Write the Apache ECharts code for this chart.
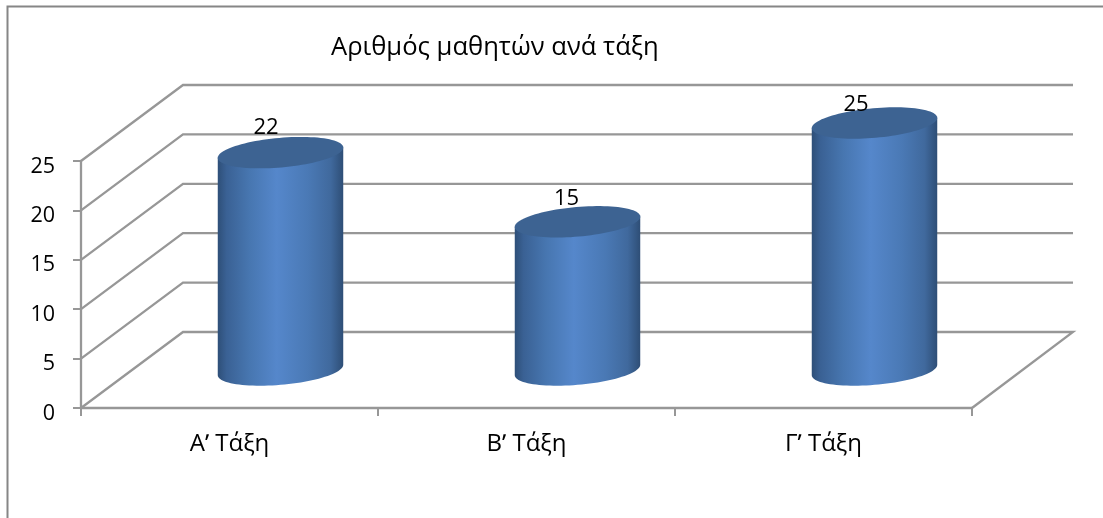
<!DOCTYPE html>
<html>
<head>
<meta charset="utf-8">
<script src="https://cdn.jsdelivr.net/npm/echarts@6/dist/echarts.min.js"></script>
<style>
  html, body { margin: 0; padding: 0; background: #fff; }
  #chart { width: 1103px; height: 518px; }
</style>
</head>
<body>
<div id="chart"></div>
<script>
// Pupils per class
const chartTitle = 'Αριθμός μαθητών ανά τάξη';
const categories = ['Αʹ Τάξη', 'Βʹ Τάξη', 'Γʹ Τάξη'];
const pupils = [22, 15, 25];
const valueTicks = [0, 5, 10, 15, 20, 25];

// Oblique projection of the 3D box, in pixels
const DEPTH_X = 102;
const DEPTH_Y = -76;
const BAR_RATIO = 0.424;
const TILT = -5 * Math.PI / 180;
const CAP_B = 14.8;
// Where each value label sits relative to the centre of the cylinder's top
const LABEL_SHIFT = [[-14.5, -25], [-11, -23], [-18.5, -18]];

const FONT = '"Open Sans", "Noto Sans", sans-serif';
const GREY = '#979797';

const chart = echarts.init(document.getElementById('chart'), null, { renderer: 'canvas' });

// Point on a tilted ellipse at parameter t
function ellipsePoint(cx, cy, a, b, t) {
  const x = a * Math.cos(t), y = b * Math.sin(t);
  return [cx + x * Math.cos(TILT) - y * Math.sin(TILT),
          cy + x * Math.sin(TILT) + y * Math.cos(TILT)];
}

// Back wall and side wall lines for one value tick
function renderWall(params, api) {
  const v = api.value(0);
  const left = api.coord([0, v]);
  const rightEnd = api.coord([categories.length - 1, v]);
  const band = api.size([1, 0])[0];
  const x0 = left[0] - band / 2;
  const x1 = rightEnd[0] + band / 2;
  const y = left[1];
  const pts = [[x0, y], [x0 + DEPTH_X, y + DEPTH_Y], [x1 + DEPTH_X - 1, y + DEPTH_Y]];
  if (v === 0) pts.push([x1, y]);
  return {
    type: 'polyline',
    shape: { points: pts },
    style: { stroke: GREY, lineWidth: 2.3, fill: null },
    silent: true
  };
}

// One cylinder: curved side, flat top, value label
function renderCylinder(params, api) {
  const idx = api.value(0);
  const val = api.value(1);
  const top = api.coord([idx, val]);
  const base = api.coord([idx, 0]);
  const a = api.size([1, 0])[0] * BAR_RATIO / 2;
  const cx = top[0] + DEPTH_X / 2;
  const topY = top[1] + DEPTH_Y / 2;
  const baseY = base[1] + DEPTH_Y / 2;

  // Parameter of the ellipse's leftmost/rightmost silhouette points
  const t0 = Math.atan2(-CAP_B * Math.sin(TILT), a * Math.cos(TILT));
  const side = [];
  const steps = 48;
  for (let i = 0; i <= steps; i++) {
    side.push(ellipsePoint(cx, baseY, a, CAP_B, t0 + Math.PI * i / steps));
  }
  side.push(ellipsePoint(cx, topY, a, CAP_B, t0 + Math.PI));
  side.push(ellipsePoint(cx, topY, a, CAP_B, t0));

  const cap = [];
  for (let i = 0; i < 96; i++) {
    cap.push(ellipsePoint(cx, topY, a, CAP_B, 2 * Math.PI * i / 96));
  }

  const shift = LABEL_SHIFT[idx];
  return {
    type: 'group',
    children: [
      {
        type: 'polygon',
        shape: { points: side },
        style: {
          fill: new echarts.graphic.LinearGradient(0, 0, 1, 0, [
            { offset: 0, color: '#2e4f78' },
            { offset: 0.07, color: '#3a6194' },
            { offset: 0.25, color: '#4776b0' },
            { offset: 0.47, color: '#5587cb' },
            { offset: 0.72, color: '#4a79b5' },
            { offset: 0.9, color: '#40699d' },
            { offset: 1, color: '#2e4e76' }
          ])
        }
      },
      {
        type: 'polygon',
        shape: { points: cap },
        style: { fill: '#3d6392' }
      },
      {
        type: 'text',
        style: {
          x: cx + shift[0],
          y: topY + shift[1],
          text: String(val),
          fill: '#000',
          font: '22px ' + FONT,
          align: 'center',
          verticalAlign: 'middle'
        }
      }
    ]
  };
}

chart.setOption({
  animation: false,
  backgroundColor: '#fff',
  title: {
    text: chartTitle,
    left: 326,
    top: 30,
    textStyle: { fontFamily: FONT, fontSize: 25.6, fontWeight: 'normal', color: '#000' }
  },
  graphic: [{
    type: 'polyline',
    silent: true,
    shape: { points: [[7.5, 518], [7.5, 6.5], [1103, 6.5]] },
    style: { stroke: '#868686', lineWidth: 2, fill: null }
  }],
  grid: { left: 81, right: 131, top: 161, bottom: 110 },
  xAxis: {
    type: 'category',
    data: categories,
    axisLine: { lineStyle: { color: GREY, width: 2.3 } },
    axisTick: { show: true, alignWithLabel: false, length: 8, lineStyle: { color: GREY, width: 2 } },
    axisLabel: { color: '#000', fontFamily: FONT, fontSize: 24, margin: 24 },
    splitLine: { show: false }
  },
  yAxis: {
    type: 'value',
    min: 0,
    max: 25,
    interval: 5,
    axisLine: { show: true, lineStyle: { color: GREY, width: 2.3 } },
    axisTick: { show: true, length: 8, lineStyle: { color: GREY, width: 2 } },
    axisLabel: { color: '#000', fontFamily: FONT, fontSize: 21.5, margin: 26, verticalAlign: 'top', lineHeight: 11 },
    splitLine: { show: false }
  },
  series: [
    {
      type: 'custom',
      name: 'wall',
      coordinateSystem: 'cartesian2d',
      renderItem: renderWall,
      encode: { y: 0 },
      data: valueTicks.map(v => [v]),
      silent: true,
      z: 1,
      clip: false
    },
    {
      type: 'custom',
      name: 'Μαθητές',
      coordinateSystem: 'cartesian2d',
      renderItem: renderCylinder,
      encode: { x: 0, y: 1 },
      data: pupils.map((v, i) => [i, v]),
      z: 3,
      clip: false
    }
  ]
});
</script>
</body>
</html>
